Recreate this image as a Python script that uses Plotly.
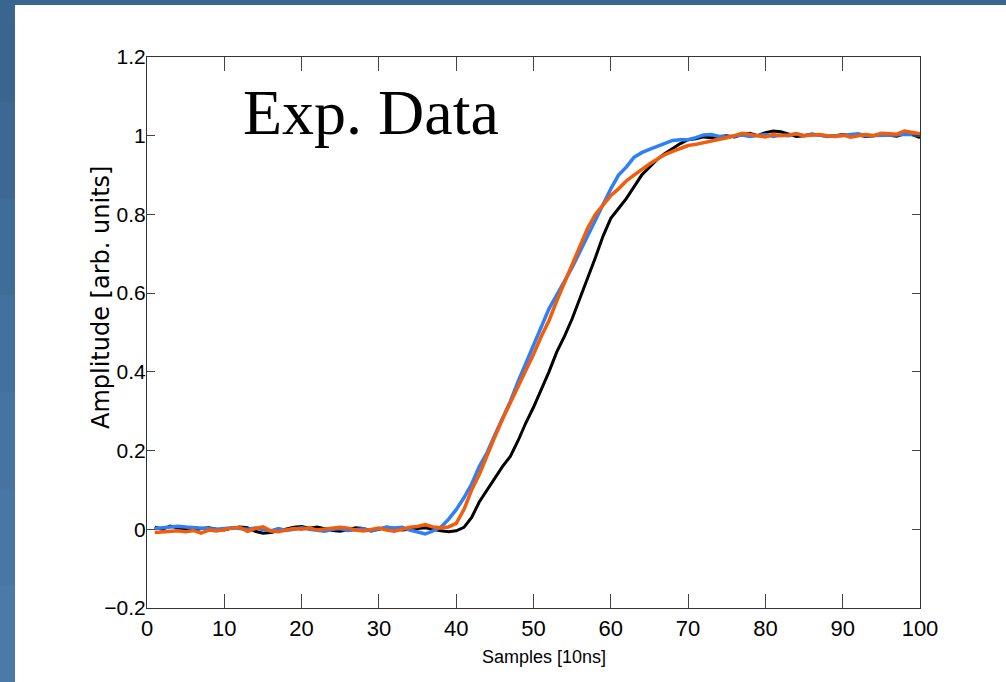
import plotly.graph_objects as go

samples = list(range(1, 101))

black = [0.005, 0.0, 0.008, 0.003, 0.0, -0.003, 0.002, 0.004, 0.0, -0.002,
         0.003, 0.006, 0.004, -0.005, -0.01, -0.008, -0.004, 0.0, 0.005, 0.007,
         0.003, 0.006, 0.002, -0.003, -0.005, 0.0, 0.004, 0.002, -0.004, 0.0,
         0.005, 0.003, -0.002, 0.0, 0.002, 0.004, 0.0, -0.004, -0.006, -0.004,
         0.005, 0.03, 0.07, 0.1, 0.13, 0.16, 0.185, 0.225, 0.27, 0.31,
         0.355, 0.4, 0.45, 0.49, 0.535, 0.585, 0.635, 0.69, 0.745, 0.79,
         0.815, 0.84, 0.87, 0.9, 0.92, 0.94, 0.955, 0.968, 0.98, 0.99,
         0.992, 0.997, 0.995, 0.998, 1.0, 0.997, 1.003, 1.006, 1.0, 1.008,
         1.012, 1.01, 1.003, 0.998, 1.0, 1.004, 1.002, 0.998, 1.0, 1.003,
         1.0, 1.002, 0.998, 1.0, 1.004, 1.001, 0.999, 1.005, 1.003, 0.995]

blue = [0.002, 0.004, 0.006, 0.008, 0.006, 0.004, 0.003, 0.001, 0.0, 0.002,
        0.004, 0.002, 0.0, 0.003, 0.0, -0.004, 0.002, -0.003, 0.0, 0.004,
        0.0, -0.002, -0.005, 0.0, 0.002, -0.003, 0.0, 0.001, -0.004, 0.0,
        0.006, 0.003, 0.005, -0.002, -0.006, -0.012, -0.004, 0.005, 0.025, 0.05,
        0.08, 0.115, 0.16, 0.195, 0.24, 0.28, 0.325, 0.375, 0.42, 0.465,
        0.515, 0.56, 0.595, 0.63, 0.665, 0.705, 0.745, 0.79, 0.825, 0.865,
        0.9, 0.92, 0.945, 0.957, 0.965, 0.972, 0.98, 0.988, 0.99, 0.99,
        0.995, 1.002, 1.003, 0.998, 0.997, 1.0, 1.002, 0.998, 1.0, 1.003,
        0.998, 1.002, 1.0, 1.005, 1.0, 1.003, 1.002, 0.998, 1.0, 1.0,
        1.003, 1.005, 1.0, 1.0, 1.002, 1.0, 1.002, 1.004, 1.004, 1.002]

orange = [-0.008, -0.006, -0.005, -0.004, -0.006, -0.003, -0.01, -0.002, -0.004, 0.0,
          0.003, 0.005, -0.005, 0.002, 0.006, -0.004, -0.006, -0.002, 0.002, 0.0,
          0.004, -0.002, 0.0, 0.002, 0.005, 0.003, -0.002, -0.004, 0.0, 0.003,
          -0.002, -0.005, 0.0, 0.005, 0.007, 0.012, 0.006, 0.004, 0.006, 0.015,
          0.05, 0.1, 0.14, 0.19, 0.235, 0.28, 0.32, 0.365, 0.405, 0.445,
          0.49, 0.53, 0.58, 0.625, 0.675, 0.72, 0.765, 0.8, 0.825, 0.848,
          0.865, 0.885, 0.9, 0.915, 0.928, 0.94, 0.952, 0.96, 0.968, 0.975,
          0.978, 0.982, 0.985, 0.99, 0.995, 1.0, 1.006, 1.003, 1.0, 0.997,
          1.003, 1.0, 1.002, 1.005, 1.0, 1.002, 1.003, 1.0, 0.998, 1.002,
          0.996, 1.0, 1.003, 1.0, 1.006, 1.005, 1.004, 1.012, 1.008, 1.005]

x_ticks = [0, 10, 20, 30, 40, 50, 60, 70, 80, 90, 100]
y_ticks = [-0.2, 0, 0.2, 0.4, 0.6, 0.8, 1, 1.2]
y_ticktext = ["\u22120.2", "0", "0.2", "0.4", "0.6", "0.8", "1", "1.2"]

NARROW = "Liberation Sans Narrow, Liberation Sans, sans-serif"

fig = go.Figure()
fig.add_trace(go.Scatter(x=samples, y=black, mode="lines",
                         line=dict(color="#000000", width=3), showlegend=False))
fig.add_trace(go.Scatter(x=samples, y=blue, mode="lines",
                         line=dict(color="#2f80f7", width=3.5), showlegend=False))
fig.add_trace(go.Scatter(x=samples, y=orange, mode="lines",
                         line=dict(color="#f25c0a", width=3.5), showlegend=False))

W, H = 1006, 682
L, R, T, B = 147, 86, 57, 74
pw, ph = W - L - R, H - T - B

def px_x(p):
    return (p - L) / pw

def px_y(p):
    return (H - B - p) / ph

shapes = [dict(type="rect", xref="paper", yref="paper",
               x0=px_x(15), x1=px_x(W + 5), y0=px_y(H + 5), y1=px_y(5),
               fillcolor="white", line=dict(width=0), layer="below")]
bands = ["#3a658f", "#3d6894", "#406c98", "#43709c", "#4673a0", "#4977a5", "#4b7aa8"]
n = len(bands)
for i, c in enumerate(bands):
    shapes.append(dict(type="rect", xref="paper", yref="paper",
                       x0=px_x(-5), x1=px_x(15),
                       y0=px_y(5 + (i + 1) * (H - 5) / n + 1), y1=px_y(5 + i * (H - 5) / n),
                       fillcolor=c, line=dict(width=0), layer="below"))

fig.update_layout(
    width=W, height=H,
    margin=dict(l=L, r=R, t=T, b=B, pad=0),
    paper_bgcolor="#3a658f",
    plot_bgcolor="white",
    shapes=shapes,
    xaxis=dict(range=[0, 100], tickvals=x_ticks, ticks="inside", ticklen=14,
               tickwidth=1, tickcolor="#444", showline=True, linecolor="#333",
               linewidth=1.2, mirror="ticks", showgrid=False, zeroline=False,
               tickfont=dict(family=NARROW, size=22, color="black")),
    yaxis=dict(range=[-0.2, 1.2], tickvals=y_ticks, ticktext=y_ticktext,
               ticks="inside", ticklen=8, tickwidth=1, tickcolor="#444",
               showline=True, linecolor="#333", linewidth=1.2, mirror="ticks",
               showgrid=False, zeroline=False, ticklabelstandoff=-4,
               tickfont=dict(family=NARROW, size=21, color="black")),
    annotations=[
        dict(text="Exp. Data", xref="x", yref="y", x=29.0, y=1.058,
             xanchor="center", yanchor="middle", showarrow=False,
             font=dict(family="Liberation Serif, Times New Roman, serif", size=64, color="black")),
        dict(text="Samples [10ns]", xref="paper", yref="paper",
             x=px_x(544), y=px_y(657), xanchor="center", yanchor="middle",
             showarrow=False, font=dict(family=NARROW, size=18, color="black")),
        dict(text="Amplitude [arb. units]", xref="paper", yref="paper",
             x=px_x(101), y=px_y(298), xanchor="center", yanchor="middle",
             textangle=-90, showarrow=False,
             font=dict(family="DejaVu Sans, sans-serif", size=24, color="black")),
    ],
)

fig.write_html("out.html")
